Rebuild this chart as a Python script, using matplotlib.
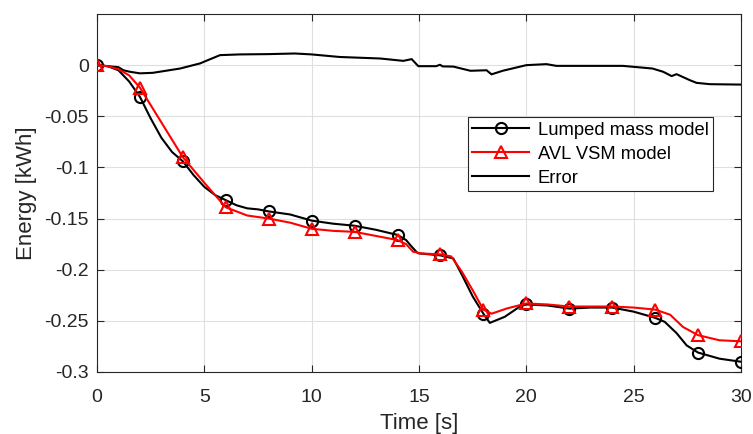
import matplotlib
matplotlib.use("Agg")
import matplotlib.pyplot as plt
from matplotlib.lines import Line2D

plt.rcParams['font.family'] = ['Liberation Sans', 'DejaVu Sans']

# Lumped mass model curve (markers every 2 s)
t_lm = [0, 0.5, 1, 1.5, 2, 2.5, 3, 3.5, 4, 4.5, 5, 5.5, 6, 6.5, 7, 7.5, 8, 9, 10, 11, 12, 13,
        14, 14.4, 14.6, 14.9, 15, 16, 16.6, 17, 17.5, 18, 18.3, 19, 19.7, 20, 21, 22, 23, 24, 25,
        26, 26.45, 27, 27.47, 28, 29, 30]
e_lm = [0, -0.001, -0.005, -0.016, -0.031, -0.052, -0.071, -0.085, -0.094, -0.1075, -0.119,
        -0.127, -0.132, -0.137, -0.140, -0.141, -0.143, -0.146, -0.152, -0.155, -0.157, -0.161,
        -0.166, -0.171, -0.176, -0.183, -0.184, -0.186, -0.189, -0.205, -0.226, -0.243, -0.252,
        -0.246, -0.236, -0.234, -0.235, -0.238, -0.237, -0.237, -0.241, -0.247, -0.251, -0.262,
        -0.274, -0.281, -0.287, -0.290]

# AVL VSM model curve
t_avl = [0, 0.5, 1, 1.5, 2, 3, 4, 5, 6, 7, 8, 9, 10, 11, 12, 13, 14, 14.4, 14.73, 14.9, 15, 16,
         16.5, 17, 17.5, 18, 18.38, 19.08, 20, 21, 22, 23, 24, 25, 26, 26.7, 27.3, 28, 29, 30]
e_avl = [0, -0.001, -0.004, -0.010, -0.022, -0.056, -0.090, -0.115, -0.139, -0.147, -0.150,
         -0.154, -0.160, -0.162, -0.163, -0.167, -0.171, -0.175, -0.1825, -0.183, -0.184, -0.185,
         -0.187, -0.202, -0.220, -0.239, -0.243, -0.238, -0.233, -0.234, -0.236, -0.236, -0.236,
         -0.237, -0.239, -0.244, -0.256, -0.264, -0.269, -0.270]

# Error curve
t_err = [0, 0.5, 1, 1.23, 1.54, 2, 2.6, 3.87, 4.8, 5.73, 6.66, 8, 9.22, 10, 11.3, 13.2, 14.27,
         14.66, 14.97, 15.8, 15.98, 16.1, 16.6, 17.4, 18.15, 18.38, 18.9, 20, 20.94, 21.4, 24.5,
         25.88, 26.38, 26.77, 27.0, 27.62, 27.93, 28.55, 30]
e_err = [0, -0.001, -0.002, -0.005, -0.0065, -0.008, -0.0075, -0.0033, 0.0017, 0.0098, 0.0105,
         0.0108, 0.0114, 0.0105, 0.008, 0.0065, 0.0042, 0.0059, -0.001, -0.001, 0.0004, -0.0012,
         -0.0014, -0.0055, -0.005, -0.009, -0.0055, 0.0, 0.001, -0.0007, -0.0007, -0.0033,
         -0.0065, -0.0107, -0.0088, -0.0147, -0.0173, -0.0186, -0.019]

x_ticks = [0, 5, 10, 15, 20, 25, 30]
y_ticks = [-0.3, -0.25, -0.2, -0.15, -0.1, -0.05, 0]
y_labels = ['-0.3', '-0.25', '-0.2', '-0.15', '-0.1', '-0.05', '0']

fg = '#262626'
fig = plt.figure(figsize=(7.53, 4.34), dpi=100)
ax = fig.add_axes([0.1288, 0.1429, 0.8552, 0.8248])

mk_lm = [i for i, t in enumerate(t_lm) if t % 2 == 0]
mk_avl = [i for i, t in enumerate(t_avl) if t % 2 == 0]

ax.plot(t_lm, e_lm, color='k', lw=1.5, marker='o', ms=8, mfc='none', mew=1.5,
        markevery=mk_lm, zorder=3)
ax.plot(t_avl, e_avl, color='r', lw=1.5, marker='^', ms=8.5, mfc='none', mew=1.5,
        markevery=mk_avl, zorder=4)
ax.plot(t_err, e_err, color='k', lw=1.5, zorder=3)

ax.set_xlim(0, 30)
ax.set_ylim(-0.3, 0.05)
ax.set_xticks(x_ticks)
ax.set_yticks(y_ticks)
ax.set_yticklabels(y_labels)
ax.grid(True, color='#dfdfdf', lw=0.8)
ax.set_axisbelow(True)
ax.tick_params(direction='in', top=True, right=True, labelsize=14, colors=fg,
               length=5, width=0.8)
ax.tick_params(axis='x', pad=12)
ax.tick_params(axis='y', pad=6)
for s in ax.spines.values():
    s.set_color(fg)
    s.set_linewidth(0.8)

ax.set_xlabel('Time [s]', fontsize=16, color=fg, labelpad=5)
ax.set_ylabel('Energy [kWh]', fontsize=16, color=fg, labelpad=5)

handles = [
    Line2D([], [], color='k', lw=1.5, marker='o', ms=8, mfc='none', mew=1.5),
    Line2D([], [], color='r', lw=1.5, marker='^', ms=8.5, mfc='none', mew=1.5),
    Line2D([], [], color='k', lw=1.5),
]
leg = ax.legend(handles, ['Lumped mass model', 'AVL VSM model', 'Error'],
                loc='upper left', bbox_to_anchor=(0.576, 0.712), fontsize=13.2,
                fancybox=False, framealpha=1, edgecolor=fg, handlelength=3.1,
                handletextpad=0.45, borderpad=0.25, labelspacing=0.38, borderaxespad=0)
leg.get_frame().set_linewidth(0.8)

fig.savefig('out.png', dpi=100)
